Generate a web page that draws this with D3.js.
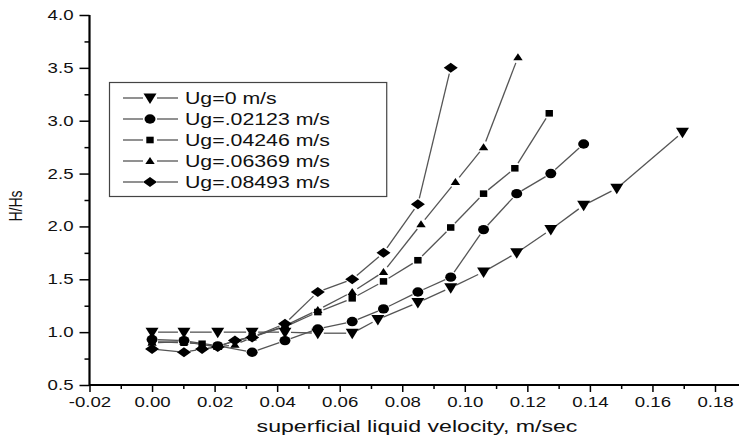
<!DOCTYPE html>
<html>
<head>
	<meta charset="utf-8">
	<script src="https://cdn.jsdelivr.net/npm/d3@7"></script>
	<style>
		body { margin: 0; background: #fff; }
		text { font-family: Arial, "Liberation Sans", sans-serif; }
	</style>
</head>
<body>
	<script>
		// data
		var legendNames = ['Ug=0 m/s', 'Ug=.02123 m/s', 'Ug=.04246 m/s', 'Ug=.06369 m/s', 'Ug=.08493 m/s'];

		var vel0 = [0, 0.0102, 0.021, 0.032, 0.0425, 0.053, 0.064, 0.0722, 0.085, 0.0955, 0.106, 0.1166, 0.1275, 0.138, 0.1486, 0.1696];
		var hhs0 = [1.0, 1.0, 1.0, 1.0, 1.0, 0.99, 0.99, 1.12, 1.28, 1.42, 1.57, 1.75, 1.97, 2.2, 2.36, 2.89];

		var vel1 = [0, 0.0102, 0.021, 0.032, 0.0425, 0.053, 0.064, 0.074, 0.085, 0.0955, 0.106, 0.1166, 0.1275, 0.138];
		var hhs1 = [0.93, 0.92, 0.87, 0.81, 0.92, 1.03, 1.10, 1.22, 1.38, 1.52, 1.97, 2.31, 2.50, 2.78];

		var vel2 = [0, 0.0102, 0.016, 0.021, 0.032, 0.0425, 0.053, 0.064, 0.074, 0.085, 0.0955, 0.106, 0.116, 0.127];
		var hhs2 = [0.91, 0.90, 0.89, 0.87, 0.96, 1.05, 1.19, 1.32, 1.48, 1.68, 1.99, 2.31, 2.55, 3.07];

		var vel3 = [0, 0.0102, 0.021, 0.0265, 0.032, 0.0425, 0.053, 0.064, 0.074, 0.086, 0.097, 0.106, 0.117];
		var hhs3 = [0.90, 0.91, 0.86, 0.88, 0.95, 1.06, 1.21, 1.38, 1.57, 2.02, 2.42, 2.75, 3.60];

		var vel4 = [0, 0.0102, 0.016, 0.021, 0.0265, 0.032, 0.0425, 0.053, 0.064, 0.074, 0.085, 0.0955];
		var hhs4 = [0.84, 0.81, 0.84, 0.86, 0.92, 0.95, 1.08, 1.38, 1.50, 1.75, 2.21, 3.50];

		var xTicks = [-0.02, 0, 0.02, 0.04, 0.06, 0.08, 0.10, 0.12, 0.14, 0.16, 0.18];
		var yTicks = [0.5, 1.0, 1.5, 2.0, 2.5, 3.0, 3.5, 4.0];

		var width = 739, height = 442;

		var svg = d3.select('body').append('svg')
			.attr('width', width)
			.attr('height', height);

		var x = d3.scaleLinear().domain([-0.02, 0.18]).range([89.5, 715]);
		var y = d3.scaleLinear().domain([0.5, 4.0]).range([385, 15]);

		// the picture is wider than it is tall, text included
		function stretch(sel, k) {
			sel.each(function () {
				var w = this.getComputedTextLength();
				d3.select(this).attr('textLength', w * k).attr('lengthAdjust', 'spacingAndGlyphs');
			});
		}

		// minor ticks
		var xMinor = d3.range(-0.01, 0.2, 0.02);
		var yMinor = d3.range(0.75, 4.0, 0.5);

		svg.append('g')
			.attr('transform', 'translate(0,385)')
			.call(d3.axisBottom(x).tickValues(xMinor).tickSize(4).tickFormat(''))
			.call(function (g) { g.select('.domain').remove(); })
			.selectAll('line').attr('stroke-width', 1.5);

		svg.append('g')
			.attr('transform', 'translate(89.5,0)')
			.call(d3.axisLeft(y).tickValues(yMinor).tickSize(5).tickFormat(''))
			.call(function (g) { g.select('.domain').remove(); })
			.selectAll('line').attr('stroke-width', 1.5);

		var xAxis = svg.append('g')
			.attr('transform', 'translate(0,385)')
			.call(d3.axisBottom(x).tickValues(xTicks).tickSize(7).tickPadding(5)
				.tickFormat(function (d) { return d3.format('.2f')(d).replace('−', '-'); }));
		xAxis.select('.domain').attr('d', 'M89.5,0H' + width).attr('stroke-width', 2.2);
		xAxis.selectAll('line').attr('stroke-width', 1.5);
		xAxis.selectAll('text').attr('font-size', 14).attr('fill', '#111')
			.call(stretch, 1.33);

		var yAxis = svg.append('g')
			.attr('transform', 'translate(89.5,0)')
			.call(d3.axisLeft(y).tickValues(yTicks).tickSize(10).tickPadding(6)
				.tickFormat(d3.format('.1f')));
		yAxis.select('.domain').attr('d', 'M0,15V386').attr('stroke-width', 2.2);
		yAxis.selectAll('line').attr('stroke-width', 1.5);
		yAxis.selectAll('text').attr('font-size', 14).attr('fill', '#111')
			.call(stretch, 1.33);

		svg.append('text')
			.attr('x', 417)
			.attr('y', 432)
			.attr('text-anchor', 'middle')
			.attr('font-size', 17)
			.attr('fill', '#111')
			.text('superficial liquid velocity, m/sec')
			.call(stretch, 1.36);

		svg.append('text')
			.attr('transform', 'translate(22,206) rotate(-90) scale(1,1.3)')
			.attr('text-anchor', 'middle')
			.attr('font-size', 14)
			.attr('fill', '#111')
			.text('H/Hs');

		// markers
		var shapes = [
			'M-6.5,-4.5L6.5,-4.5L0,6Z',                  // down triangle
			'M-5.5,0A5.5,4.7 0 1,0 5.5,0A5.5,4.7 0 1,0 -5.5,0Z', // circle
			'M-3.7,-3.3H3.7V3.3H-3.7Z',                  // square
			'M-4.7,3L4.7,3L0,-4Z',                       // up triangle
			'M-7,0L0,-5L7,0L0,5Z'                        // diamond
		];

		var series = [
			{ vel: vel0, hhs: hhs0 },
			{ vel: vel1, hhs: hhs1 },
			{ vel: vel2, hhs: hhs2 },
			{ vel: vel3, hhs: hhs3 },
			{ vel: vel4, hhs: hhs4 }
		];

		var gap = 6;

		// lines with small gaps at each marker, like the original plot
		function gapSegment(x1, y1, x2, y2) {
			var dx = x2 - x1, dy = y2 - y1;
			var len = Math.sqrt(dx * dx + dy * dy);
			if (len <= 2 * gap) return null;
			var ux = dx / len, uy = dy / len;
			return [x1 + ux * gap, y1 + uy * gap, x2 - ux * gap, y2 - uy * gap];
		}

		var lineG = svg.append('g');
		var markG = svg.append('g');

		series.forEach(function (s, i) {
			var pts = s.vel.map(function (v, j) { return [x(v), y(s.hhs[j])]; });
			for (var j = 0; j < pts.length - 1; j++) {
				var seg = gapSegment(pts[j][0], pts[j][1], pts[j + 1][0], pts[j + 1][1]);
				if (!seg) continue;
				lineG.append('line')
					.attr('x1', seg[0]).attr('y1', seg[1])
					.attr('x2', seg[2]).attr('y2', seg[3])
					.attr('stroke', '#555')
					.attr('stroke-width', 1.3);
			}
			markG.selectAll('.m' + i)
				.data(pts)
				.enter().append('path')
				.attr('class', 'm' + i)
				.attr('transform', function (d) { return 'translate(' + d[0] + ',' + d[1] + ')'; })
				.attr('d', shapes[i])
				.attr('fill', '#000');
		});

		// legend
		var legend = svg.append('g');
		var box = legend.append('rect')
			.attr('x', 109.5).attr('y', 82.5)
			.attr('height', 114)
			.attr('fill', '#fff')
			.attr('stroke', '#444')
			.attr('stroke-width', 1.2);

		var maxRight = 0;
		legendNames.forEach(function (name, i) {
			var ly = 98 + i * 21;
			legend.append('line').attr('x1', 123).attr('x2', 143).attr('y1', ly).attr('y2', ly)
				.attr('stroke', '#555').attr('stroke-width', 1.3);
			legend.append('line').attr('x1', 157).attr('x2', 178).attr('y1', ly).attr('y2', ly)
				.attr('stroke', '#555').attr('stroke-width', 1.3);
			legend.append('path')
				.attr('transform', 'translate(150,' + ly + ')')
				.attr('d', shapes[i])
				.attr('fill', '#000');
			var t = legend.append('text')
				.attr('x', 185)
				.attr('y', ly + 6)
				.attr('font-size', 16)
				.attr('fill', '#111')
				.text(name)
				.call(stretch, 1.33);
			maxRight = Math.max(maxRight, 185 + t.node().getComputedTextLength() * 1.33);
		});
		box.attr('width', maxRight + 9 - 109.5);
	</script>
</body>
</html>
